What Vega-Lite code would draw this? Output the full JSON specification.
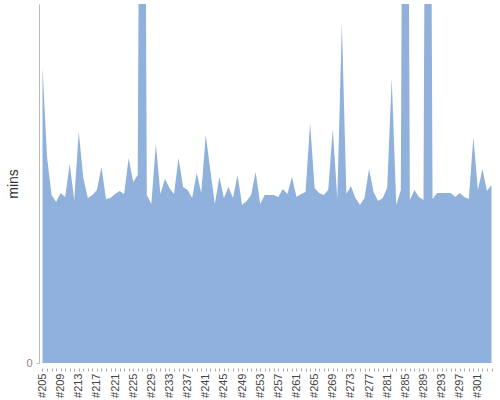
{
  "$schema": "https://vega.github.io/schema/vega-lite/v6.json",
  "width": 456,
  "height": 359,
  "padding": {"left": 6, "top": 4, "right": 5, "bottom": 5},
  "config": {
    "view": {"stroke": null},
    "font": "Liberation Sans"
  },
  "data": {
    "values": [
      {"run": 205, "mins": 14.8}, {"run": 206, "mins": 10.3}, {"run": 207, "mins": 8.4}, {"run": 208, "mins": 8.05},
      {"run": 209, "mins": 8.5}, {"run": 210, "mins": 8.3}, {"run": 211, "mins": 9.95}, {"run": 212, "mins": 8.15},
      {"run": 213, "mins": 11.55}, {"run": 214, "mins": 9.25}, {"run": 215, "mins": 8.25}, {"run": 216, "mins": 8.4},
      {"run": 217, "mins": 8.65}, {"run": 218, "mins": 9.8}, {"run": 219, "mins": 8.2}, {"run": 220, "mins": 8.25},
      {"run": 221, "mins": 8.45}, {"run": 222, "mins": 8.6}, {"run": 223, "mins": 8.45}, {"run": 224, "mins": 10.25},
      {"run": 225, "mins": 9.05}, {"run": 226, "mins": 9.4}, {"run": 227, "mins": 60}, {"run": 228, "mins": 8.4},
      {"run": 229, "mins": 7.95}, {"run": 230, "mins": 10.95}, {"run": 231, "mins": 8.45}, {"run": 232, "mins": 9.2},
      {"run": 233, "mins": 8.75}, {"run": 234, "mins": 8.45}, {"run": 235, "mins": 10.25}, {"run": 236, "mins": 8.8},
      {"run": 237, "mins": 8.65}, {"run": 238, "mins": 8.25}, {"run": 239, "mins": 9.5}, {"run": 240, "mins": 8.5},
      {"run": 241, "mins": 11.4}, {"run": 242, "mins": 9.65}, {"run": 243, "mins": 7.95}, {"run": 244, "mins": 9.3},
      {"run": 245, "mins": 8.25}, {"run": 246, "mins": 8.8}, {"run": 247, "mins": 8.25}, {"run": 248, "mins": 9.4},
      {"run": 249, "mins": 7.9}, {"run": 250, "mins": 8.1}, {"run": 251, "mins": 8.4}, {"run": 252, "mins": 9.55},
      {"run": 253, "mins": 7.95}, {"run": 254, "mins": 8.4}, {"run": 255, "mins": 8.4}, {"run": 256, "mins": 8.4},
      {"run": 257, "mins": 8.3}, {"run": 258, "mins": 8.7}, {"run": 259, "mins": 8.45}, {"run": 260, "mins": 9.3},
      {"run": 261, "mins": 8.3}, {"run": 262, "mins": 8.45}, {"run": 263, "mins": 8.55}, {"run": 264, "mins": 12.0},
      {"run": 265, "mins": 8.75}, {"run": 266, "mins": 8.5}, {"run": 267, "mins": 8.4}, {"run": 268, "mins": 8.65},
      {"run": 269, "mins": 11.7}, {"run": 270, "mins": 8.2}, {"run": 271, "mins": 17.0}, {"run": 272, "mins": 8.45},
      {"run": 273, "mins": 8.85}, {"run": 274, "mins": 8.25}, {"run": 275, "mins": 7.9}, {"run": 276, "mins": 8.25},
      {"run": 277, "mins": 9.7}, {"run": 278, "mins": 8.55}, {"run": 279, "mins": 8.1}, {"run": 280, "mins": 8.25},
      {"run": 281, "mins": 8.75}, {"run": 282, "mins": 14.25}, {"run": 283, "mins": 7.9}, {"run": 284, "mins": 8.65},
      {"run": 285, "mins": 60}, {"run": 286, "mins": 8.15}, {"run": 287, "mins": 8.65}, {"run": 288, "mins": 8.3},
      {"run": 289, "mins": 8.15}, {"run": 290, "mins": 60}, {"run": 291, "mins": 8.2}, {"run": 292, "mins": 8.5},
      {"run": 293, "mins": 8.5}, {"run": 294, "mins": 8.5}, {"run": 295, "mins": 8.5}, {"run": 296, "mins": 8.3},
      {"run": 297, "mins": 8.5}, {"run": 298, "mins": 8.3}, {"run": 299, "mins": 8.2}, {"run": 300, "mins": 11.3},
      {"run": 301, "mins": 8.65}, {"run": 302, "mins": 9.7}, {"run": 303, "mins": 8.6}, {"run": 304, "mins": 8.9}
    ]
  },
  "mark": {"type": "area", "color": "#8fb1db", "clip": true, "interpolate": "linear"},
  "encoding": {
    "x": {
      "field": "run",
      "type": "ordinal",
      "scale": {"type": "point", "padding": 0.77},
      "axis": {
        "title": null,
        "domain": false,
        "offset": 5,
        "tickSize": 3,
        "tickColor": "#aaaaaa",
        "labelAngle": -90,
        "labelFontSize": 11,
        "labelColor": "#444444",
        "labelPadding": 2,
        "labelOverlap": false,
        "labelExpr": "(datum.value - 205) % 4 == 0 ? '#' + datum.value : ''"
      }
    },
    "y": {
      "field": "mins",
      "type": "quantitative",
      "scale": {"domain": [0, 17.95], "nice": false, "zero": true},
      "axis": {
        "title": "mins",
        "values": [0],
        "grid": false,
        "domainColor": "#bbbbbb",
        "tickColor": "#bbbbbb",
        "tickSize": 3,
        "labelPadding": 4,
        "labelFontSize": 11,
        "labelColor": "#888888",
        "titleFontSize": 14,
        "titleFontWeight": "normal",
        "titleColor": "#333333",
        "titlePadding": 5
      }
    }
  }
}
